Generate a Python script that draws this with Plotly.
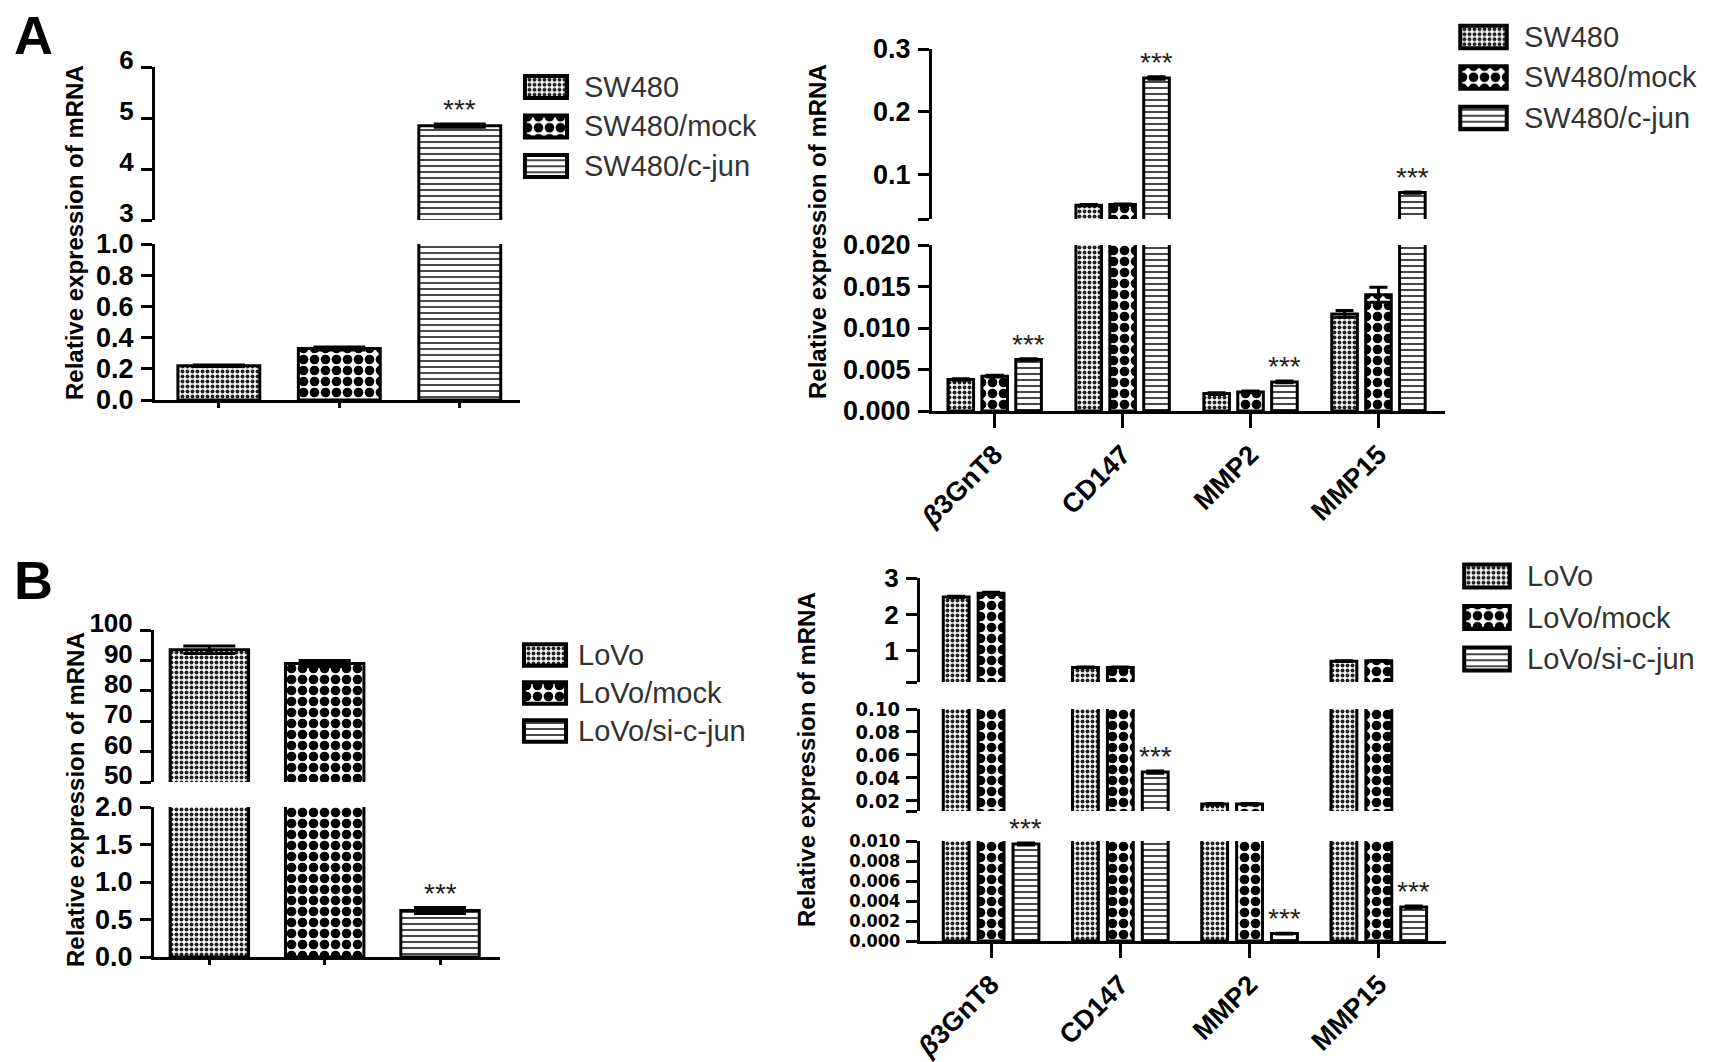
import plotly.graph_objects as go

W, H = 1731, 1062

# ------------------------- DATA -------------------------
# Panel A (left): SW480 cells, c-jun mRNA
a_left_groups = ["SW480", "SW480/mock", "SW480/c-jun"]
a_left_values = [0.22, 0.33, 4.85]
a_left_errors = [0.005, 0.01, 0.03]
a_left_sig = ["", "", "***"]

# Panel A (right): genes in SW480 lines
genes = ["β3GnT8", "CD147", "MMP2", "MMP15"]
gene_ticktext = ["<i>β</i>3GnT8", "CD147", "MMP2", "MMP15"]
a_right_series = ["SW480", "SW480/mock", "SW480/c-jun"]
a_right_sw480 = [0.0038, 0.052, 0.0021, 0.0117]
a_right_mock = [0.0042, 0.053, 0.0023, 0.0140]
a_right_cjun = [0.0062, 0.254, 0.0035, 0.072]
a_right_sw480_err = [0.0001, 0.001, 0.0001, 0.0004]
a_right_mock_err = [0.0001, 0.001, 0.0001, 0.0009]
a_right_cjun_err = [0.0001, 0.002, 0.0001, 0.001]
a_right_sig = ["", "", "***"]

# Panel B (left): LoVo cells, c-jun mRNA
b_left_groups = ["LoVo", "LoVo/mock", "LoVo/si-c-jun"]
b_left_values = [93.5, 89.0, 0.62]
b_left_errors = [1.2, 1.0, 0.04]
b_left_sig = ["", "", "***"]

# Panel B (right): genes in LoVo lines
b_right_series = ["LoVo", "LoVo/mock", "LoVo/si-c-jun"]
b_right_lovo = [2.48, 0.55, 0.017, 0.72]
b_right_mock = [2.58, 0.55, 0.017, 0.73]
b_right_si = [0.0097, 0.045, 0.00074, 0.0034]
b_right_lovo_err = [0.02, 0.01, 0.0005, 0.01]
b_right_mock_err = [0.03, 0.01, 0.0005, 0.01]
b_right_si_err = [0.0001, 0.001, 0.00003, 0.0001]
b_right_sig = ["", "", "***"]

# Axis segment tick labels
a_left_low_ticks = [0.0, 0.2, 0.4, 0.6, 0.8, 1.0]
a_left_low_labels = ["0.0", "0.2", "0.4", "0.6", "0.8", "1.0"]
a_left_high_ticks = [3, 4, 5, 6]
a_left_high_labels = ["3", "4", "5", "6"]

a_right_low_ticks = [0.0, 0.005, 0.010, 0.015, 0.020]
a_right_low_labels = ["0.000", "0.005", "0.010", "0.015", "0.020"]
a_right_high_ticks = [0.03, 0.1, 0.2, 0.3]
a_right_high_labels = ["", "0.1", "0.2", "0.3"]

b_left_low_ticks = [0.0, 0.5, 1.0, 1.5, 2.0]
b_left_low_labels = ["0.0", "0.5", "1.0", "1.5", "2.0"]
b_left_high_ticks = [50, 60, 70, 80, 90, 100]
b_left_high_labels = ["50", "60", "70", "80", "90", "100"]

b_right_low_ticks = [0.0, 0.002, 0.004, 0.006, 0.008, 0.010]
b_right_low_labels = ["0.000", "0.002", "0.004", "0.006", "0.008", "0.010"]
b_right_mid_ticks = [0.011, 0.02, 0.04, 0.06, 0.08, 0.10]
b_right_mid_labels = ["", "0.02", "0.04", "0.06", "0.08", "0.10"]
b_right_high_ticks = [0.15, 1, 2, 3]
b_right_high_labels = ["", "1", "2", "3"]

# ------------------------- STYLE -------------------------
FONT = "Liberation Sans, Arial, sans-serif"
NARROW = "Liberation Sans Narrow, DejaVu Sans Condensed, Liberation Sans, sans-serif"


def tickfont(size, family=FONT):
    return dict(family=family, size=size, color="black", weight="bold")


PATTERNS = [
    dict(shape=".", size=5, solidity=0.5, fgcolor="#222222", fgopacity=1, fillmode="overlay"),
    dict(shape=".", size=11, solidity=0.6, fgcolor="black", fgopacity=1, fillmode="overlay"),
    dict(shape="-", size=6, solidity=0.3, fgcolor="#333333", fgopacity=1, fillmode="overlay"),
]


def fx(px):
    return px / W


def fy(py):
    return 1 - py / H


panels = [
    dict(
        key="AL", x_px=(155, 520), xrange=(-0.53, 2.5), grouped=False,
        categories=a_left_groups, ticktext=None, bar_w=0.68, cap=26,
        names=a_left_groups,
        values=[[v] for v in a_left_values], errors=[[e] for e in a_left_errors],
        xs=[[g] for g in a_left_groups], sig=a_left_sig,
        segments=[
            dict(rng=(0, 1.0), px=(400, 244), tv=a_left_low_ticks, tt=a_left_low_labels, font=tickfont(27), shift=0),
            dict(rng=(3, 6), px=(220, 67), tv=a_left_high_ticks, tt=a_left_high_labels, font=tickfont(26), shift=-7),
        ],
        ytitle_xy=(75, 233),
        leg=dict(sw=(525, 567), text_x=582, rows=(87, 166)),
    ),
    dict(
        key="AR", x_px=(932, 1445), xrange=(-0.49, 3.52), grouped=True,
        categories=genes, ticktext=gene_ticktext, bar_w=0.20, slot=0.265, cap=9,
        names=a_right_series,
        values=[a_right_sw480, a_right_mock, a_right_cjun],
        errors=[a_right_sw480_err, a_right_mock_err, a_right_cjun_err],
        xs=[genes, genes, genes], sig=a_right_sig,
        segments=[
            dict(rng=(0, 0.020), px=(411, 245), tv=a_right_low_ticks, tt=a_right_low_labels, font=tickfont(27), shift=0),
            dict(rng=(0.03, 0.3), px=(219, 49), tv=a_right_high_ticks, tt=a_right_high_labels, font=tickfont(27), shift=0),
        ],
        ytitle_xy=(817, 232),
        leg=dict(sw=(1460, 1507), text_x=1522, rows=(37, 118)),
    ),
    dict(
        key="BL", x_px=(154, 500), xrange=(-0.48, 2.52), grouped=False,
        categories=b_left_groups, ticktext=None, bar_w=0.68, cap=26,
        names=b_left_groups,
        values=[[v] for v in b_left_values], errors=[[e] for e in b_left_errors],
        xs=[[g] for g in b_left_groups], sig=b_left_sig,
        segments=[
            dict(rng=(0, 2.0), px=(957, 807), tv=b_left_low_ticks, tt=b_left_low_labels, font=tickfont(27), shift=0),
            dict(rng=(50, 100), px=(782, 630), tv=b_left_high_ticks, tt=b_left_high_labels, font=tickfont(26), shift=-7),
        ],
        ytitle_xy=(75, 800),
        leg=dict(sw=(524, 566), text_x=576, rows=(655, 731)),
    ),
    dict(
        key="BR", x_px=(920, 1446), xrange=(-0.55, 3.52), grouped=True,
        categories=genes, ticktext=gene_ticktext, bar_w=0.20, slot=0.27, cap=9,
        names=b_right_series,
        values=[b_right_lovo, b_right_mock, b_right_si],
        errors=[b_right_lovo_err, b_right_mock_err, b_right_si_err],
        xs=[genes, genes, genes], sig=b_right_sig,
        segments=[
            dict(rng=(0, 0.010), px=(941, 841), tv=b_right_low_ticks, tt=b_right_low_labels, font=tickfont(18, NARROW), shift=0),
            dict(rng=(0.011, 0.10), px=(811, 709), tv=b_right_mid_ticks, tt=b_right_mid_labels, font=tickfont(20, NARROW), shift=0),
            dict(rng=(0.15, 3), px=(682, 578), tv=b_right_high_ticks, tt=b_right_high_labels, font=tickfont(26), shift=0),
        ],
        ytitle_xy=(806, 760),
        leg=dict(sw=(1464, 1510), text_x=1525, rows=(576, 659)),
    ),
]

fig = go.Figure()
layout = {}
annotations = []
ycount = 0
xcount = 0


def next_x():
    global xcount
    xcount += 1
    return ("xaxis" if xcount == 1 else f"xaxis{xcount}"), ("x" if xcount == 1 else f"x{xcount}")


def next_y():
    global ycount
    ycount += 1
    return ("yaxis" if ycount == 1 else f"yaxis{ycount}"), ("y" if ycount == 1 else f"y{ycount}")


for P in panels:
    xname, xref = next_x()
    seg_refs = []
    for S in P["segments"]:
        yname, yref = next_y()
        seg_refs.append(yref)
        layout[yname] = dict(
            domain=[fy(S["px"][0]), fy(S["px"][1])],
            range=list(S["rng"]), anchor=xref, automargin=False,
            tickmode="array", tickvals=S["tv"], ticktext=S["tt"],
            showline=True, linewidth=3, linecolor="black",
            ticks="outside", ticklen=11, tickwidth=3, tickcolor="black",
            tickfont=S["font"], showgrid=False, zeroline=False, fixedrange=True,
            ticklabelstandoff=2, ticklabelshift=S["shift"],
        )
    layout[xname] = dict(
        domain=[fx(P["x_px"][0]), fx(P["x_px"][1])],
        range=list(P["xrange"]), anchor=seg_refs[0], type="category", automargin=False,
        categoryorder="array", categoryarray=P["categories"],
        showline=True, linewidth=3, linecolor="black",
        ticks="outside", tickwidth=3, tickcolor="black",
        ticklen=14 if P["grouped"] else 5,
        showticklabels=P["grouped"], tickangle=-45,
        tickfont=dict(family=FONT, size=27, color="black", weight="bold"),
        showgrid=False, zeroline=False, fixedrange=True,
    )
    if P["grouped"]:
        layout[xname]["tickmode"] = "array"
        layout[xname]["tickvals"] = P["categories"]
        layout[xname]["ticktext"] = P["ticktext"]

    n_series = len(P["names"])
    w = P["bar_w"]
    for k in range(n_series):
        if P["grouped"]:
            off = (k - (n_series - 1) / 2) * P["slot"] - w / 2
        else:
            off = -w / 2
        for yref in seg_refs:
            n = len(P["xs"][k])
            fig.add_trace(go.Bar(
                x=P["xs"][k], y=P["values"][k], xaxis=xref, yaxis=yref,
                width=[w] * n, offset=[off] * n,
                name=P["names"][k], showlegend=False,
                marker=dict(color="white", line=dict(color="black", width=3),
                            pattern=PATTERNS[k]),
                error_y=dict(type="data", array=P["errors"][k], visible=True,
                             color="black", thickness=3, width=P["cap"]),
                hoverinfo="skip",
            ))
        # significance marks
        if P["sig"][k]:
            for j, (xc, v) in enumerate(zip(P["xs"][k], P["values"][k])):
                top = v + P["errors"][k][j]
                seg_ref, seg_top = seg_refs[0], P["segments"][0]["rng"][1]
                for S, r in zip(P["segments"], seg_refs):
                    if top > S["rng"][0]:
                        seg_ref, seg_top = r, S["rng"][1]
                idx = P["categories"].index(xc)
                annotations.append(dict(
                    x=idx + off + w / 2, y=min(top, seg_top),
                    xref=xref, yref=seg_ref, text=P["sig"][k], showarrow=False,
                    yanchor="bottom", yshift=-3,
                    font=dict(family=FONT, size=28, color="#222"),
                ))

    # y axis title
    annotations.append(dict(
        x=fx(P["ytitle_xy"][0]), y=fy(P["ytitle_xy"][1]), xref="paper", yref="paper",
        text="Relative expression of mRNA", textangle=-90, showarrow=False,
        xanchor="center", yanchor="middle",
        font=dict(family=FONT, size=24, color="black", weight="bold"),
    ))

    # custom legend: pattern swatches drawn as bars on a small hidden axis pair
    L = P["leg"]
    lxname, lxref = next_x()
    lyname, lyref = next_y()
    row_gap = (L["rows"][1] - L["rows"][0]) / (n_series - 1)
    layout[lxname] = dict(domain=[fx(L["sw"][0] - 3), fx(L["sw"][1] + 3)], range=[-0.07, 1.07],
                          anchor=lyref, visible=False, fixedrange=True, automargin=False)
    layout[lyname] = dict(domain=[fy(L["rows"][1] + row_gap / 2), fy(L["rows"][0] - row_gap / 2)],
                          range=[n_series - 0.5, -0.5], anchor=lxref, visible=False, fixedrange=True,
                          automargin=False)
    for k in range(n_series):
        fig.add_trace(go.Bar(
            x=[1], y=[k], base=[0], orientation="h", width=[0.56],
            xaxis=lxref, yaxis=lyref, showlegend=False, hoverinfo="skip",
            marker=dict(color="white", line=dict(color="black", width=4), pattern=PATTERNS[k]),
        ))
        annotations.append(dict(
            x=fx(L["text_x"]), y=k, xref="paper", yref=lyref, text=P["names"][k],
            showarrow=False, xanchor="left", yanchor="middle",
            font=dict(family=FONT, size=29, color="#333"),
        ))

# panel letters
for letter, (lx, ly) in [("A", (33, 35)), ("B", (33, 580))]:
    annotations.append(dict(
        x=fx(lx), y=fy(ly), xref="paper", yref="paper", text=letter,
        showarrow=False, xanchor="center", yanchor="middle",
        font=dict(family=FONT, size=54, color="black", weight="bold"),
    ))

fig.update_layout(
    width=W, height=H, margin=dict(l=0, r=0, t=0, b=0, pad=0, autoexpand=False),
    paper_bgcolor="white", plot_bgcolor="white", showlegend=False,
    barmode="overlay", annotations=annotations,
    **layout,
)

fig.write_html("out.html", config={"displayModeBar": False},
               post_script="document.body.style.margin='0';")
